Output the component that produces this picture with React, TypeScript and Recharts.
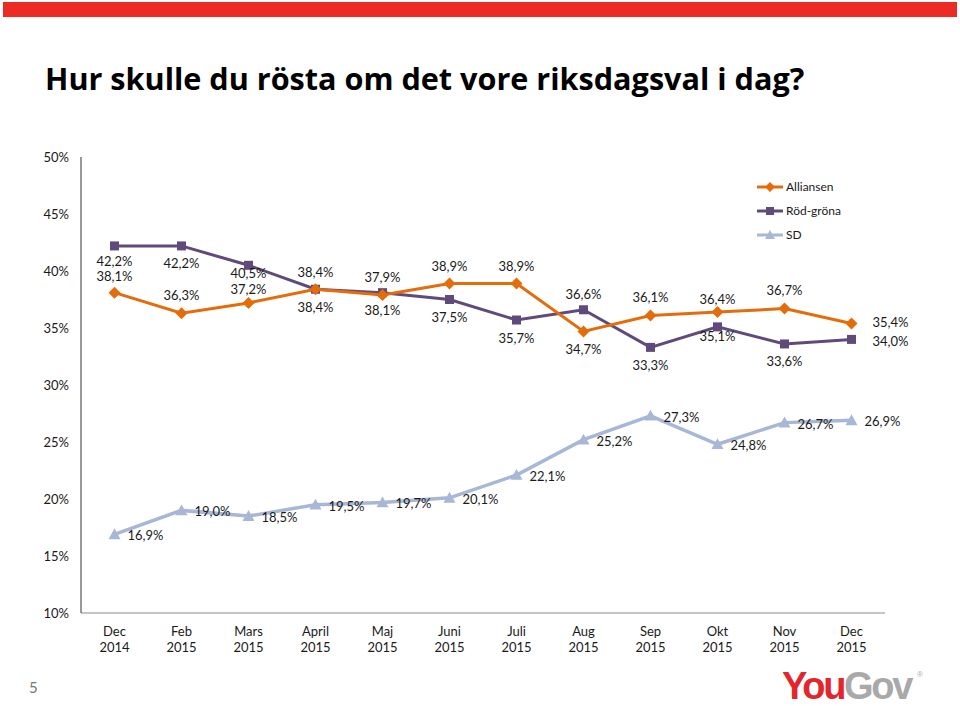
import { LineChart, Line, XAxis, YAxis, LabelList } from 'recharts'

const FONT = 'Lato, "Open Sans", sans-serif'
const ORANGE = '#E46C0A'
const PURPLE = '#604A7B'
const BLUEGREY = '#A7B7D5'

const MONTHS = ['Dec', 'Feb', 'Mars', 'April', 'Maj', 'Juni', 'Juli', 'Aug', 'Sep', 'Okt', 'Nov', 'Dec']
const YEARS = ['2014', '2015', '2015', '2015', '2015', '2015', '2015', '2015', '2015', '2015', '2015', '2015']
const ALLIANSEN = [38.1, 36.3, 37.2, 38.4, 37.9, 38.9, 38.9, 34.7, 36.1, 36.4, 36.7, 35.4]
const ROD_GRONA = [42.2, 42.2, 40.5, 38.4, 38.1, 37.5, 35.7, 36.6, 33.3, 35.1, 33.6, 34.0]
const SD = [16.9, 19.0, 18.5, 19.5, 19.7, 20.1, 22.1, 25.2, 27.3, 24.8, 26.7, 26.9]
const Y_TICKS = [10, 15, 20, 25, 30, 35, 40, 45, 50]

// label placement: vertical offset of the label centre from its point (last point is labelled to the right)
const ALL_LABEL_DY = [-16, -18, -13, -17, -17, -17, -17, 18, -18, -13, -18, -1]
const RG_LABEL_DY = [16, 18, 8, 18, 18, 18, 18, -15, 18, 10, 18, 2]

const data = MONTHS.map((m, i) => ({
  label: `${m}\n${YEARS[i]}`,
  Alliansen: ALLIANSEN[i],
  'Röd-gröna': ROD_GRONA[i],
  SD: SD[i],
}))

const fmt = (v: number) => `${v.toFixed(1).replace('.', ',')}%`

function Diamond({ cx, cy, r = 6, fill }: any) {
  return <path d={`M${cx},${cy - r}L${cx + r},${cy}L${cx},${cy + r}L${cx - r},${cy}Z`} fill={fill} />
}
function Square({ cx, cy, r = 4.5, fill }: any) {
  return <rect x={cx - r} y={cy - r} width={r * 2} height={r * 2} fill={fill} />
}
function Triangle({ cx, cy, r = 6, fill }: any) {
  return <path d={`M${cx},${cy - r}L${cx + r},${cy + r * 0.8}L${cx - r},${cy + r * 0.8}Z`} fill={fill} />
}

function pointLabel(dys: number[] | null) {
  return (props: any) => {
    const x = props.x ?? props.viewBox?.x
    const y = props.y ?? props.viewBox?.y
    const i = props.index
    if (x == null || y == null) return null
    const text = fmt(Number(props.value))
    const style = { fontFamily: FONT, fontSize: 13, fill: '#1a1a1a' }
    if (!dys) {
      return <text key={i} x={x + 13} y={y + 6} {...style}>{text}</text>
    }
    if (i === dys.length - 1) {
      return <text key={i} x={x + 21} y={y + dys[i] + 4.5} {...style}>{text}</text>
    }
    return <text key={i} x={x} y={y + dys[i] + 4.5} textAnchor="middle" {...style}>{text}</text>
  }
}

function XTick({ x, y, payload }: any) {
  const [m, yr] = String(payload.value).split('\n')
  return (
    <g style={{ fontFamily: FONT, fontSize: 13, fill: '#1a1a1a' }}>
      <text x={x} y={y + 15} textAnchor="middle">{m}</text>
      <text x={x} y={y + 31} textAnchor="middle">{yr}</text>
    </g>
  )
}

const LEGEND = [
  { name: 'Alliansen', color: ORANGE, Marker: Diamond },
  { name: 'Röd-gröna', color: PURPLE, Marker: Square },
  { name: 'SD', color: BLUEGREY, Marker: Triangle },
]

export default function App() {
  return (
    <div style={{ position: 'absolute', left: 0, top: 0, width: 960, height: 706, background: '#fff' }}>
      <LineChart width={960} height={706} data={data} margin={{ top: 157, right: 75, bottom: 63, left: 0 }}>
        <XAxis
          dataKey="label"
          interval={0}
          height={30}
          padding={{ left: 33.5, right: 33.5 }}
          axisLine={{ stroke: '#8c8c8c' }}
          tickLine={false}
          tick={<XTick />}
        />
        <YAxis
          domain={[10, 50]}
          ticks={Y_TICKS}
          width={81}
          tickFormatter={(v) => `${v}%`}
          axisLine={{ stroke: '#333' }}
          tickLine={false}
          tickMargin={6}
          tick={{ fontSize: 13, fill: '#1a1a1a', fontFamily: FONT }}
        />
        <Line
          dataKey="SD"
          stroke={BLUEGREY}
          strokeWidth={3.5}
          isAnimationActive={false}
          dot={(p: any) => <Triangle key={p.index} cx={p.cx} cy={p.cy} fill={BLUEGREY} />}
        >
          <LabelList dataKey="SD" content={pointLabel(null)} />
        </Line>
        <Line
          dataKey="Röd-gröna"
          stroke={PURPLE}
          strokeWidth={3}
          isAnimationActive={false}
          dot={(p: any) => <Square key={p.index} cx={p.cx} cy={p.cy} fill={PURPLE} />}
        >
          <LabelList dataKey="Röd-gröna" content={pointLabel(RG_LABEL_DY)} />
        </Line>
        <Line
          dataKey="Alliansen"
          stroke={ORANGE}
          strokeWidth={3}
          isAnimationActive={false}
          dot={(p: any) => <Diamond key={p.index} cx={p.cx} cy={p.cy} fill={ORANGE} />}
        >
          <LabelList dataKey="Alliansen" content={pointLabel(ALL_LABEL_DY)} />
        </Line>
      </LineChart>

      <svg width={960} height={706} style={{ position: 'absolute', left: 0, top: 0, pointerEvents: 'none' }}>
        <rect x={3} y={2} width={954} height={15} fill="#EC2B24" />
        <text x={45} y={90} style={{ fontFamily: '"Open Sans", sans-serif', fontWeight: 700, fontSize: 30.6, fill: '#000' }}>
          Hur skulle du rösta om det vore riksdagsval i dag?
        </text>
        {LEGEND.map((l, i) => (
          <g key={l.name}>
            <line x1={757} x2={783} y1={187 + i * 24} y2={187 + i * 24} stroke={l.color} strokeWidth={3} />
            <l.Marker cx={770} cy={187 + i * 24} r={i === 1 ? 4 : 5} fill={l.color} />
            <text x={786} y={191 + i * 24} style={{ fontFamily: FONT, fontSize: 12, fill: '#1a1a1a' }}>{l.name}</text>
          </g>
        ))}
        <text x={29} y={693} style={{ fontFamily: FONT, fontSize: 15, fill: '#777' }}>5</text>
        <text x={782} y={699} style={{ fontFamily: '"Liberation Sans", Arial, sans-serif', fontWeight: 700, fontSize: 38, letterSpacing: -2.3 }}>
          <tspan fill="#E3262E">You</tspan>
          <tspan fill="#A9A9A9">Gov</tspan>
        </text>
        <text x={917} y={677} style={{ fontFamily: '"Liberation Sans", Arial, sans-serif', fontSize: 8, fill: '#aaa' }}>®</text>
      </svg>
    </div>
  )
}
